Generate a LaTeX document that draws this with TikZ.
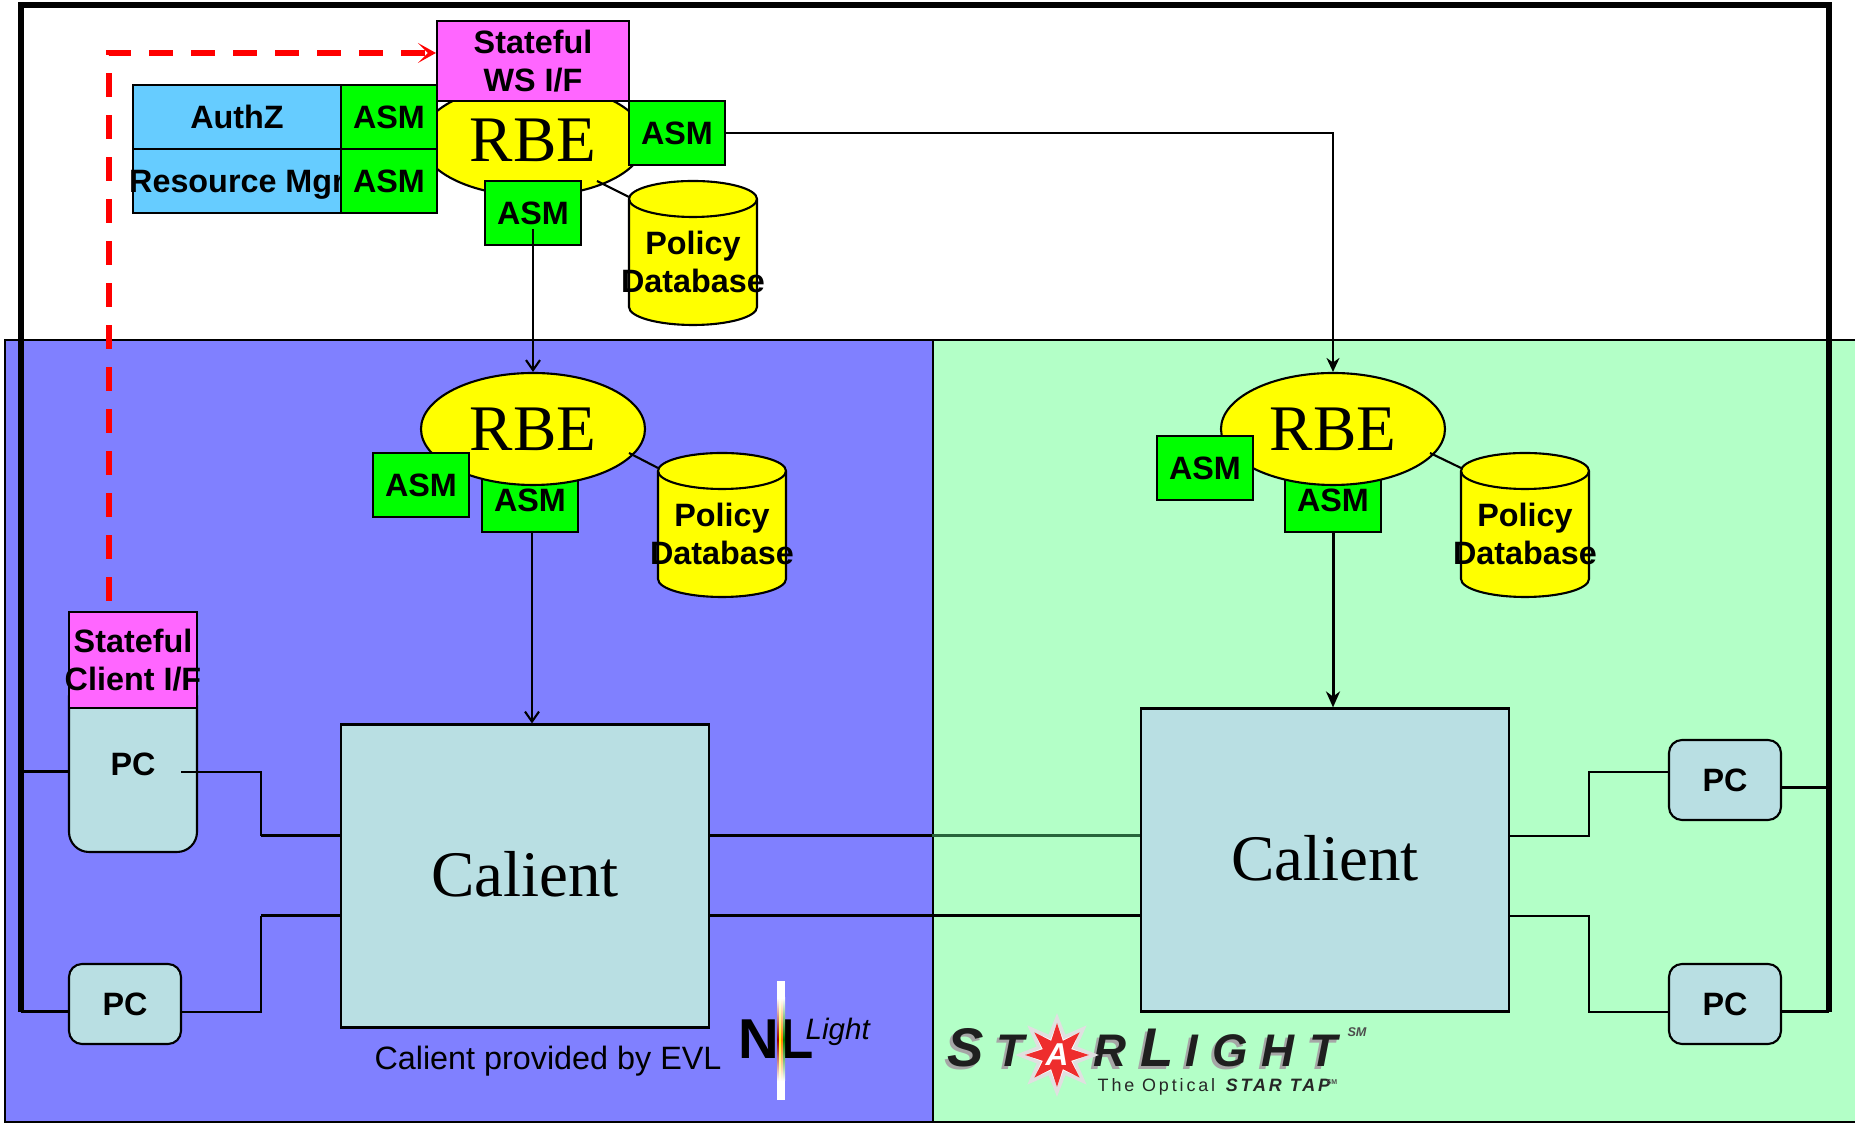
\documentclass[tikz,border=0pt]{standalone}
\usepackage{fontspec}
\setmainfont{Liberation Sans}
\newfontfamily\rmserif{Liberation Serif}
\newfontfamily\logospaced[LetterSpace=16]{Liberation Sans}
\definecolor{evlblue}{RGB}{128,128,255}
\definecolor{slgreen}{RGB}{179,255,199}
\definecolor{ifpink}{RGB}{255,102,255}
\definecolor{svcblue}{RGB}{102,204,255}
\definecolor{asmgreen}{RGB}{0,255,0}
\definecolor{dbyellow}{RGB}{255,255,0}
\definecolor{pcteal}{RGB}{185,223,227}
\definecolor{linkgreen}{RGB}{40,100,60}
\definecolor{logored}{RGB}{238,45,45}
\definecolor{dashred}{RGB}{255,0,0}
\usetikzlibrary{arrows.meta,positioning,shapes.geometric,calc}
\tikzset{
  lbl/.style={font=\fontsize{9.2}{11}\selectfont\bfseries, align=center, inner sep=0pt},
  box/.style={draw, line width=0.6pt, inner sep=0pt, minimum width=#1},
  asmbox/.style={box=0.96cm, fill=asmgreen, minimum height=0.64cm, lbl},
  svcbox/.style={box=2.08cm, fill=svcblue, minimum height=0.64cm, lbl},
  ifbox/.style={box=#1, fill=ifpink},
  pcbox/.style={box=1.12cm, fill=pcteal, rounded corners=0.13cm, minimum height=0.80cm, lbl},
  rbe/.style={ellipse, draw, line width=0.6pt, fill=dbyellow, minimum width=2.24cm, minimum height=1.12cm, inner sep=0pt, font=\fontsize{18.5}{20}\selectfont\rmserif},
  calient/.style={box=3.68cm, fill=pcteal, minimum height=3.03cm, text depth=0.04cm, font=\fontsize{18.5}{20}\selectfont\rmserif},
  wire/.style={line width=0.6pt},
  fatwire/.style={line width=0.85pt},
  bus/.style={line width=1.7pt},
  logoletter/.style={inner sep=0pt, anchor=base, font=\fontsize{#1}{#1}\selectfont\bfseries\itshape},
  pics/policydb/.style={code={
    \draw[line width=0.6pt, fill=dbyellow] (-0.64,0.54) -- (-0.64,-0.54)
      arc[start angle=180, end angle=360, x radius=0.64, y radius=0.18] -- (0.64,0.54)
      arc[start angle=0, end angle=180, x radius=0.64, y radius=0.18] -- cycle;
    \draw[line width=0.6pt] (-0.64,0.54) arc[start angle=180, end angle=360, x radius=0.64, y radius=0.18];
  }}
}

\begin{document}
\begin{tikzpicture}
  \useasboundingbox (0,0) rectangle (18.55,11.23);

  % Sites
  \node[draw, line width=0.6pt, fill=evlblue, anchor=south west, inner sep=0pt, minimum width=9.28cm, minimum height=7.82cm] (evlsite) at (0.04,0) {};
  \node[draw, line width=0.6pt, fill=slgreen, anchor=south west, inner sep=0pt, minimum width=9.40cm, minimum height=7.82cm] (slsite) at (9.32,0) {};

  % Top RBE
  \node[rbe] (rbetop) at (5.33,9.83) {RBE};
  \pic (dbtop) at (6.93,8.70) {policydb};
  \node[lbl] (dbtoptxt) at (6.93,8.61) {Policy\\Database};
  \node[ifbox=1.92cm, minimum height=0.80cm] (wsif) at (5.33,10.62) {};
  \node[lbl] (wsiftxt) at (5.33,10.62) {Stateful\\WS I/F};
  \node[svcbox] (authz) at (2.37,10.06) {AuthZ};
  \node[svcbox] (resmgr) at (2.37,9.42) {};
  \node[lbl, text depth=0pt] (resmgrtxt) at (2.37,9.42) {Resource Mgr};
  \node[asmbox] (asmauthz) at (3.89,10.06) {ASM};
  \node[asmbox] (asmres) at (3.89,9.42) {ASM};
  \node[asmbox] (asmright) at (6.77,9.90) {ASM};
  \node[asmbox] (asmdown) at (5.33,9.10) {ASM};
  \coordinate (rbetoptail) at (5.97,9.42);
  \coordinate (asmdowntail) at (5.33,8.94);
  \draw[wire] (rbetoptail) -- (6.29,9.26);

  % EVL RBE
  \node[asmbox] (asmevlb) at (5.30,6.23) {ASM};
  \node[rbe] (rbeevl) at (5.33,6.94) {RBE};
  \node[asmbox] (asmevll) at (4.21,6.38) {ASM};
  \pic (dbevl) at (7.22,5.98) {policydb};
  \node[lbl] (dbevltxt) at (7.22,5.89) {Policy\\Database};
  \coordinate (rbeevltail) at (6.29,6.70);
  \draw[wire] (rbeevltail) -- (6.58,6.55);

  % StarLight RBE
  \node[asmbox] (asmslb) at (13.33,6.23) {ASM};
  \node[rbe] (rbesl) at (13.33,6.94) {RBE};
  \node[asmbox] (asmsll) at (12.05,6.55) {ASM};
  \pic (dbsl) at (15.25,5.98) {policydb};
  \node[lbl] (dbsltxt) at (15.25,5.89) {Policy\\Database};
  \coordinate (rbesltail) at (14.30,6.70);
  \draw[wire] (rbesltail) -- (14.61,6.55);

  % Switches
  \node[calient] (calevl) at (5.25,2.47) {Calient};
  \node[calient] (calsl) at (13.25,2.63) {Calient};

  % PCs
  \node[box=1.28cm, fill=pcteal, rounded corners=0.20cm, minimum height=1.76cm, lbl] (pcclient) at (1.33,3.59) {PC};
  \node[ifbox=1.28cm, minimum height=0.96cm] (clientif) at (1.33,4.63) {};
  \node[lbl] (clientiftxt) at (1.33,4.63) {Stateful\\Client I/F};
  \node[pcbox] (pcevl) at (1.25,1.19) {PC};
  \node[pcbox] (pcsla) at (17.25,3.43) {PC};
  \node[pcbox] (pcslb) at (17.25,1.19) {PC};

  % Arrows between RBEs
  \draw[wire, -{Straight Barb[length=0.10cm,width=0.14cm]}] (asmdowntail) -- (rbeevl.north);
  \draw[wire, -{Stealth[length=0.14cm,width=0.13cm]}] (asmright.east) -| (rbesl.north);
  \coordinate (asmevltail) at (5.32,5.91);
  \draw[wire, -{Straight Barb[length=0.10cm,width=0.14cm]}] (asmevltail) -- (asmevltail |- calevl.north);
  \draw[fatwire, -{Stealth[length=0.16cm,width=0.14cm]}] (asmslb.south) -- (asmslb.south |- calsl.north);

  % Stateful path
  \coordinate (statecorner) at (1.09,10.70);
  \draw[dashred, line width=1.7pt, dash pattern=on 0.24cm off 0.18cm, dash phase=0.32cm, -{Stealth[length=0.18cm,width=0.20cm,inset=0.10cm,line width=0.5pt]}]
    (clientif.north -| statecorner) -- (statecorner) -- (statecorner -| wsif.west);

  % Control bus
  \coordinate (busl) at (0.21,1.11);
  \coordinate (busr) at (18.29,1.11);
  \draw[bus] (busl) -- (0.21,11.18) -- (18.29,11.18) -- (busr);
  \draw[fatwire] (busl) -- (pcevl.west |- busl);
  \coordinate (pcclientin) at (0.69,3.51);
  \draw[fatwire] (busl |- pcclientin) -- (pcclientin);
  \draw[fatwire] (pcsla.east |- 0,3.35) -- (busr |- 0,3.35);
  \draw[fatwire] (pcslb.east |- busr) -- (busr);

  % Data links, EVL side
  \coordinate (calin) at (3.41,2.87);
  \coordinate (calinb) at (3.41,2.07);
  \coordinate (pcclientout) at (1.81,3.51);
  \draw[wire] (pcclientout) -| (2.61,2.87);
  \draw[fatwire] (2.61,2.87) -- (calin);
  \draw[wire] (pcevl.east |- busl) -| (2.61,2.07);
  \draw[fatwire] (2.61,2.07) -- (calinb);

  % Data links between sites
  \coordinate (siteedge) at (9.32,2.87);
  \draw[fatwire] (calevl.east |- calin) -- (siteedge);
  \draw[linkgreen, fatwire] (siteedge) -- (calsl.west |- calin);
  \draw[fatwire] (calevl.east |- calinb) -- (calsl.west |- calinb);

  % Data links, StarLight side
  \draw[wire] (calsl.east |- calin) -| (15.89,3.51) -- (pcsla.west |- 0,3.51);
  \draw[wire] (calsl.east |- calinb) -| (15.89,1.11) -- (pcslb.west |- busr);

  % Captions
  \node[font=\fontsize{9.2}{10}\selectfont, inner sep=0pt] (evlnote) at (5.48,0.62) {Calient provided by EVL};

  % NLight logo
  \node[font=\fontsize{16}{16}\selectfont\bfseries, inner sep=0pt, anchor=base] (nltxt) at (7.76,0.64) {NL};
  \fill[white] (7.77,0.23) rectangle (7.85,1.42);
  \foreach \stripe/\xpos in {red!60!black/7.77, yellow/7.79, orange/7.81, green!50!black/7.83} {
    \shade[top color=white, bottom color=white, middle color=\stripe] (\xpos,0.42) rectangle (\xpos+0.02,1.25);
  }
  \node[font=\fontsize{8.4}{10}\selectfont\itshape, inner sep=0pt, anchor=base west] (lighttxt) at (8.05,0.83) {Light};

  % StarLight logo
  \foreach \ltr/\xpos/\fsize [count=\i] in {S/9.66/15.5, T/10.10/13, R/11.10/13, L/11.57/15.5, I/11.92/13, G/12.30/13, H/12.78/13, T/13.23/13} {
    \node[logoletter=\fsize, text=black!35] (lshade\i) at (\xpos-0.03,0.53) {\ltr};
    \node[logoletter=\fsize, text=black!88] (lname\i) at (\xpos,0.56) {\ltr};
  }
  \node[star, star points=8, star point ratio=1.9, fill=white, draw=black!12, line width=1pt, minimum size=0.74cm, inner sep=0pt] (starhalo) at (10.57,0.68) {};
  \node[star, star points=8, star point ratio=2.1, fill=logored, minimum size=0.64cm, inner sep=0pt] (starlogo) at (10.57,0.68) {};
  \node[logoletter=9, text=white] (staralpha) at (10.57,0.57) {A};
  \node[font=\fontsize{3.6}{4}\selectfont\bfseries\itshape, text=black!70, inner sep=0pt] (smtxt) at (13.57,0.91) {SM};
  \node[font=\fontsize{5.1}{6}\selectfont\logospaced, text=black!85, inner sep=0pt, anchor=base west] (tagline) at (10.97,0.31) {The Optical \textbf{\textit{STAR TAP}}};
  \node[font=\fontsize{2}{2}\selectfont\bfseries, text=black!70, inner sep=0pt] (tmtxt) at (13.32,0.41) {SM};
\end{tikzpicture}
\end{document}
